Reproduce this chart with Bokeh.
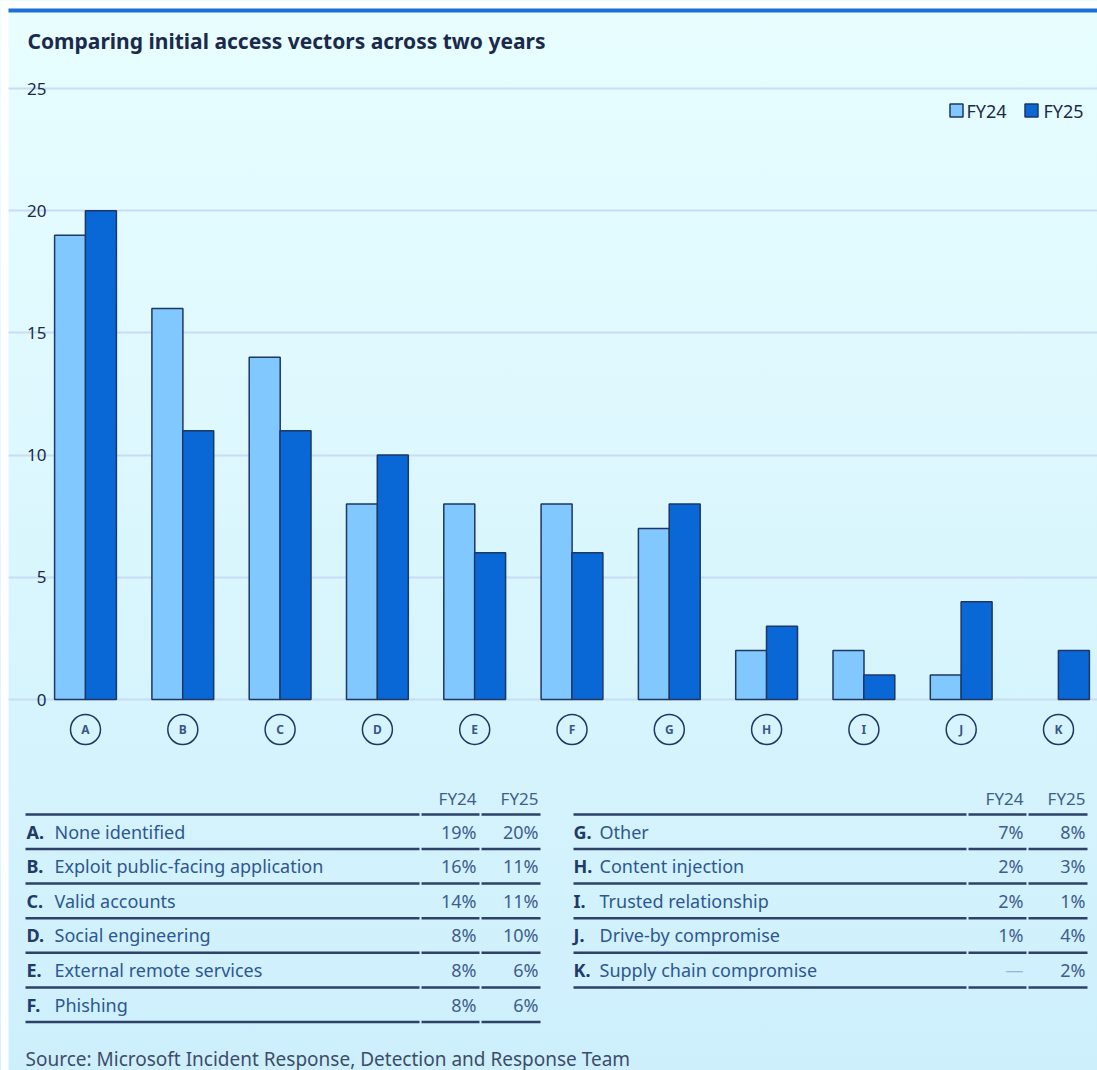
from bokeh.plotting import figure
from bokeh.models import Range1d, FixedTicker, ColumnDataSource
from bokeh.transform import dodge
from bokeh.embed import file_html
from bokeh.resources import INLINE
from bokeh.core.properties import value

# ---------------- data ----------------
letters = ["A", "B", "C", "D", "E", "F", "G", "H", "I", "J", "K"]
names = ["None identified", "Exploit public-facing application", "Valid accounts",
         "Social engineering", "External remote services", "Phishing", "Other",
         "Content injection", "Trusted relationship", "Drive-by compromise",
         "Supply chain compromise"]
fy24 = [19, 16, 14, 8, 8, 8, 7, 2, 2, 1, None]
fy25 = [20, 11, 11, 10, 6, 6, 8, 3, 1, 4, 2]
series = ["FY24", "FY25"]
y_ticks = [0, 5, 10, 15, 20, 25]
title_text = "Comparing initial access vectors across two years"
source_text = "Source: Microsoft Incident Response, Detection and Response Team"

# ---------------- style ----------------
FONT = "Noto Sans"
W, H = 1097, 1070
LIGHT = "#80c8fe"
DARK = "#0967d6"
EDGE = "#1d3766"
NAVY = "#1b2a4c"
NAME_C = "#2e5790"
VAL_C = "#3f5e8c"
GRID = "#c8dcf6"
TOP_C, BOT_C = "#e8feff", "#cdeffc"

# pixel helpers (figure occupies the page from 0,0)
CAT_PX, CAT0 = 97.3, 85.0
UNIT_PX, ZERO = 24.44, 699.0
def dx(px):
    return (px - CAT0) / CAT_PX
def dy(py):
    return (ZERO - py) / UNIT_PX

bar_w = 31.0 / CAT_PX
off = 15.4 / CAT_PX

src = ColumnDataSource(dict(
    x=list(range(len(letters))),
    letters=letters,
    fy24=[float("nan") if v is None else v for v in fy24],
    fy25=fy25,
    circ_y=[dy(729)] * len(letters),
))

p = figure(width=W, height=H, output_backend="svg", toolbar_location=None,
           x_range=Range1d(dx(0), dx(W)), y_range=Range1d(dy(H), dy(0)),
           min_border=0, x_axis_location=None, y_axis_location="left",
           styles={"background": f"linear-gradient(to bottom, {TOP_C}, {BOT_C})"})
p.background_fill_alpha = 0
p.border_fill_alpha = 0
p.outline_line_color = None

p.yaxis.fixed_location = dx(55)
p.yaxis.ticker = FixedTicker(ticks=y_ticks)
p.yaxis.axis_line_color = None
p.yaxis.major_tick_line_color = None
p.yaxis.minor_tick_line_color = None
p.yaxis.major_label_standoff = 3
p.yaxis.major_label_text_font = FONT
p.yaxis.major_label_text_font_size = "17px"
p.yaxis.major_label_text_color = NAVY
p.xgrid.visible = False
p.ygrid.ticker = FixedTicker(ticks=y_ticks)
p.ygrid.grid_line_color = GRID
p.ygrid.grid_line_width = 2
p.ygrid.bounds = (dx(55), dx(1090))

# page margin strips (white) and top accent line
p.quad(left=[dx(0), dx(0)], right=[dx(8), dx(W)], top=[dy(0), dy(0)],
       bottom=[dy(H), dy(8)], fill_color="white", line_color=None)
p.quad(left=[dx(8)], right=[dx(W)], top=[dy(8)], bottom=[dy(12)],
       fill_color="#1c6ed8", line_color=None)

p.vbar(x=dodge("x", -off, range=p.x_range), top="fy24", bottom=0, width=bar_w, source=src,
       fill_color=LIGHT, line_color=EDGE, line_width=1.5)
p.vbar(x=dodge("x", off, range=p.x_range), top="fy25", bottom=0, width=bar_w, source=src,
       fill_color=DARK, line_color=EDGE, line_width=1.5)

p.scatter(x="x", y="circ_y", source=src, marker="circle", size=30,
          fill_color=None, line_color=EDGE, line_width=1.5)
p.text(x="x", y="circ_y", text="letters", source=src, text_align="center",
       text_baseline="middle", text_font=value(FONT), text_font_style="bold",
       text_font_size="12px", text_color="#3a5688")

# legend
leg_y = dy(110)
p.scatter(x=[dx(956)], y=[leg_y], marker="square", size=13, fill_color=LIGHT,
          line_color=EDGE, line_width=1.5)
p.scatter(x=[dx(1031)], y=[leg_y], marker="square", size=13, fill_color=DARK,
          line_color=EDGE, line_width=1.5)
p.text(x=[dx(966), dx(1043)], y=[leg_y, leg_y], text=series, text_baseline="middle",
       text_font=value(FONT), text_font_size="18px", text_color=NAVY)

# title
p.text(x=[dx(27)], y=[dy(40)], text=[title_text], text_baseline="middle",
       text_font=value(FONT), text_font_style="bold", text_font_size="21px",
       text_color=NAVY)

# ---------------- tables ----------------
HEAD_Y, HEAD_LINE, ROW0, ROW_H = 798, 814, 831, 34.6
tables = [
    dict(idx=range(0, 6), lx=26, nx=54, c1=476, c2=538,
         segs=[(25, 419), (421, 479), (481, 540)]),
    dict(idx=range(6, 11), lx=573, nx=599, c1=1023, c2=1085,
         segs=[(573, 966), (968, 1026), (1028, 1087)]),
]
x0s, x1s, ys = [], [], []
for tb in tables:
    n = len(tb["idx"])
    ids = list(tb["idx"])
    p.text(x=[dx(tb["c1"]), dx(tb["c2"])], y=[dy(HEAD_Y)] * 2, text=series,
           text_align="right", text_baseline="middle", text_font=value(FONT),
           text_font_size="17px", text_color=VAL_C)
    line_ys = [HEAD_LINE] + [ROW0 + 17.5 + ROW_H * k for k in range(n)]
    for ly in line_ys:
        for a, b in tb["segs"]:
            x0s.append(dx(a)); x1s.append(dx(b)); ys.append(dy(ly))
    rows_y = [dy(ROW0 + ROW_H * k) for k in range(n)]
    p.text(x=[dx(tb["lx"])] * n, y=rows_y, text=[letters[i] + "." for i in ids],
           text_baseline="middle", text_font=value(FONT), text_font_style="bold",
           text_font_size="18px", text_color="#213a68")
    p.text(x=[dx(tb["nx"])] * n, y=rows_y, text=[names[i] for i in ids],
           text_baseline="middle", text_font=value(FONT),
           text_font_size="18px", text_color=NAME_C)
    v24 = ["—" if fy24[i] is None else f"{fy24[i]}%" for i in ids]
    v24c = ["#93b5df" if fy24[i] is None else VAL_C for i in ids]
    p.text(x=[dx(tb["c1"])] * n, y=rows_y, text=v24, text_color=v24c, text_align="right",
           text_baseline="middle", text_font=value(FONT), text_font_size="18px")
    p.text(x=[dx(tb["c2"])] * n, y=rows_y, text=[f"{fy25[i]}%" for i in ids],
           text_align="right", text_baseline="middle", text_font=value(FONT),
           text_font_size="18px", text_color=VAL_C)

p.segment(x0=x0s, y0=ys, x1=x1s, y1=ys, line_color="#2e4168", line_width=2.5)
p.text(x=[dx(25)], y=[dy(1058)], text=[source_text], text_baseline="middle",
       text_font=value(FONT), text_font_size="19px", text_color="#3d4d68")

open("out.html", "w").write(file_html(p, INLINE))
